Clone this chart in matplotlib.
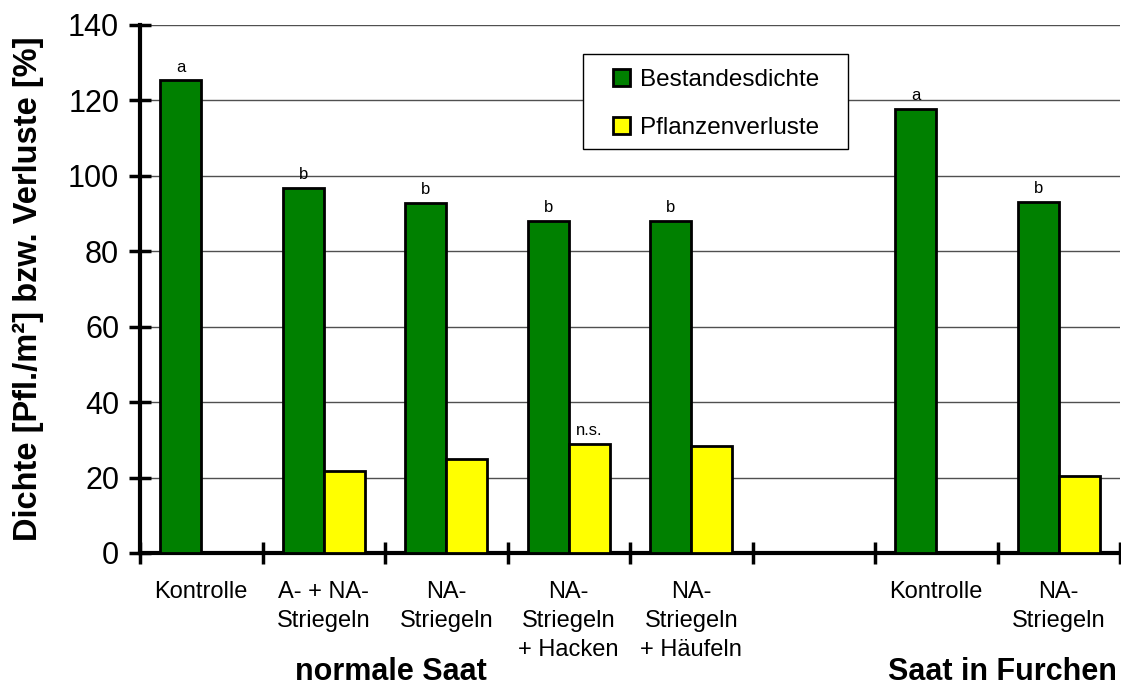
import matplotlib.pyplot as plt
from matplotlib.patches import Rectangle

plt.rcParams['font.family'] = ['Liberation Sans', 'DejaVu Sans']

# categories (empty slot separates the two sowing groups)
categories = ['Kontrolle', 'A- + NA-\nStriegeln', 'NA-\nStriegeln', 'NA-\nStriegeln\n+ Hacken',
              'NA-\nStriegeln\n+ Häufeln', '', 'Kontrolle', 'NA-\nStriegeln']
bestandesdichte = [125.3, 96.8, 92.8, 88.0, 88.0, None, 117.7, 93.1]
pflanzenverluste = [None, 21.7, 24.9, 28.9, 28.4, None, None, 20.4]
letters_green = ['a', 'b', 'b', 'b', 'b', '', 'a', 'b']
letters_yellow = ['', '', '', 'n.s.', '', '', '', '']
groups = ['normale Saat', 'Saat in Furchen']

green = '#008000'
yellow = '#FFFF00'
w = 0.335

fig = plt.figure(figsize=(11.21, 6.86), dpi=100)
ax = fig.add_axes([140 / 1121, 1 - 553 / 686, 980 / 1121, 528 / 686])

xg, hg, xy, hy = [], [], [], []
for i in range(len(categories)):
    if bestandesdichte[i] is not None:
        xg.append(i)
        hg.append(bestandesdichte[i])
    if pflanzenverluste[i] is not None:
        xy.append(i)
        hy.append(pflanzenverluste[i])

ax.bar(xg, hg, width=-w, align='edge', color=green, edgecolor='black', linewidth=2,
       label='Bestandesdichte', zorder=3)
ax.bar(xy, hy, width=w, align='edge', color=yellow, edgecolor='black', linewidth=2,
       label='Pflanzenverluste', zorder=3)

for i in range(len(categories)):
    if letters_green[i]:
        ax.text(i - w / 2, bestandesdichte[i] + 1.5, letters_green[i], ha='center', va='bottom',
                fontsize=12)
    if letters_yellow[i]:
        ax.text(i + w / 2, pflanzenverluste[i] + 1.5, letters_yellow[i], ha='center', va='bottom',
                fontsize=12)

ax.set_xlim(-0.5, len(categories) - 0.5)
ax.set_ylim(0, 140)
ax.set_yticks(range(0, 141, 20))
ax.yaxis.grid(True, color='#505050', linewidth=1)
ax.set_axisbelow(True)

ax.set_xticks([i - 0.5 for i in range(len(categories) + 1)])
ax.set_xticklabels([])
ax.set_xticks(range(len(categories)), minor=True)
ax.set_xticklabels(categories, minor=True, fontsize=17, linespacing=1.42)
ax.tick_params(axis='x', which='minor', length=0, pad=20)
ax.tick_params(axis='both', which='major', direction='inout', length=16, width=2.5)
ax.tick_params(axis='y', labelsize=22, pad=7)

for s in ['top', 'right']:
    ax.spines[s].set_visible(False)
for s in ['left', 'bottom']:
    ax.spines[s].set_linewidth(3)

ax.set_ylabel('Dichte [Pfl./m²] bzw. Verluste [%]', fontsize=23.5, fontweight='bold', labelpad=17)

fig.text(391 / 1121, 14 / 686, groups[0], ha='center', va='center', fontsize=22, fontweight='bold')
fig.text(1117 / 1121, 14 / 686, groups[1], ha='right', va='center', fontsize=22, fontweight='bold')

# legend frame drawn separately so its padding matches the original box
ax.add_patch(Rectangle((583 / 1121, 1 - 149 / 686), 265 / 1121, 95 / 686,
                       transform=fig.transFigure, facecolor='white', edgecolor='black',
                       linewidth=1, zorder=4, clip_on=False))
leg = ax.legend(loc='upper left', bbox_to_anchor=(613 / 1121, 1 - 69 / 686),
                bbox_transform=fig.transFigure, fontsize=17.5, frameon=False,
                handlelength=0.7, handleheight=0.7, handletextpad=0.4,
                labelspacing=1.05, borderpad=0, borderaxespad=0)
leg.set_zorder(5)

fig.savefig('out.png', dpi=100)
